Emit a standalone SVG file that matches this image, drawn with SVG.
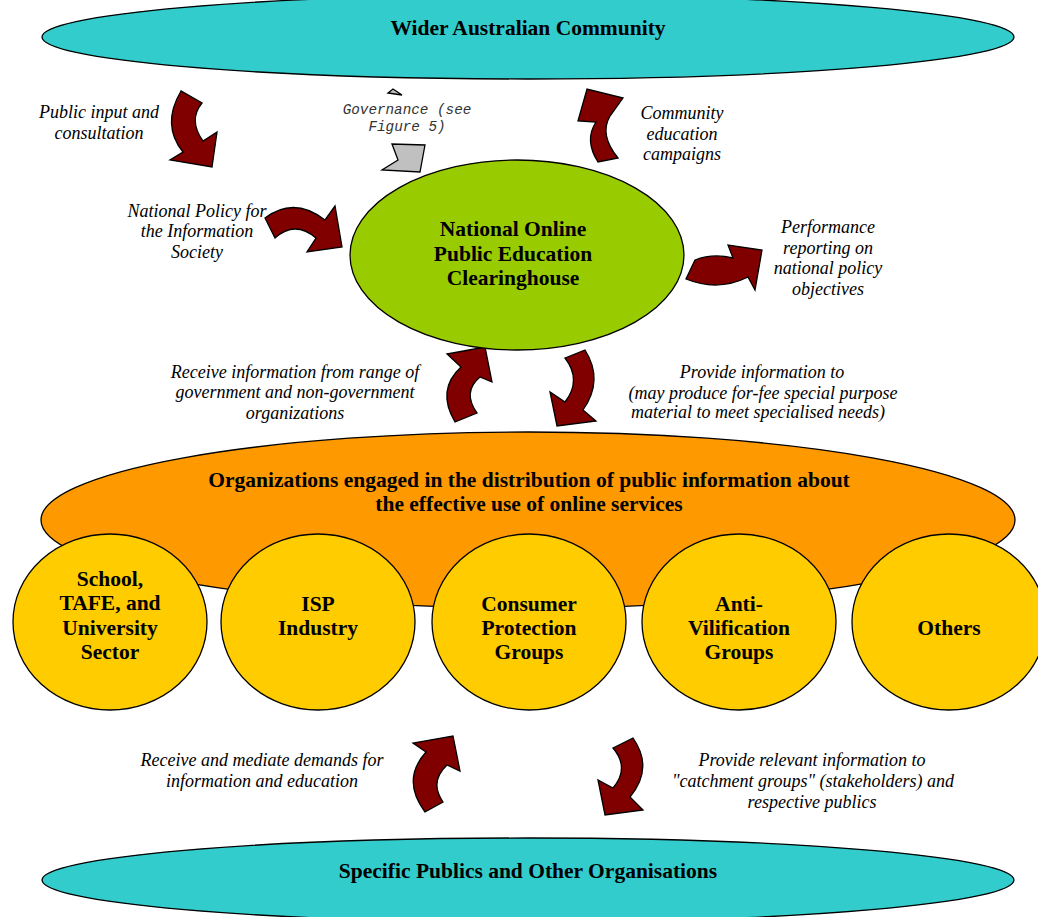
<svg xmlns="http://www.w3.org/2000/svg" width="1038" height="917" viewBox="0 0 1038 917">
<style>
.bg{fill:#ffffff}
.ell{stroke:#000;stroke-width:1.3}
.cyan{fill:#33cccc}
.green{fill:#99cc00}
.orange{fill:#ff9900}
.yellow{fill:#ffcc00}
.arr{fill:#800000;stroke:#000;stroke-width:1.3;stroke-linejoin:miter}
.garr{fill:#c0c0c0;stroke:#000;stroke-width:1.3}
.b{font-family:"Liberation Serif",serif;font-weight:bold;font-size:21.5px;text-anchor:middle;fill:#000}
.i{font-family:"Liberation Serif",serif;font-style:italic;font-size:18px;text-anchor:middle;fill:#000}
.m{font-family:"Liberation Mono",monospace;font-style:italic;font-size:14.3px;text-anchor:middle;fill:#333}
</style>
<rect class="bg" x="0" y="0" width="1038" height="917"/>
<g id="wider-community">
<ellipse class="ell cyan" cx="528" cy="37" rx="486" ry="42"/>
<text class="b" x="528" y="35">Wider Australian Community</text>
</g>
<g id="connectors">
<path class="arr" d="M181,91 Q161,125 183,152 L170,160 L212,167 L217,132 L203,141 Q188,120 202,103 Z"/>
<path class="garr" d="M388,93 L393,89 L402,95 Z"/>
<path class="garr" d="M392,144 L398,160 L382,170 L420,172 L425,145 Z"/>
<path class="arr" d="M598,162 Q584,140 596,122 L578,121 L587,89 L623,98 L610,116 Q599,135 618,158 Z"/>
<path class="arr" d="M265,218 Q294,196 325,220 L335,206 L342,247 L307,252 L316,238 Q295,220 275,238 Z"/>
<path class="arr" d="M695,260 Q713,253 733,258 L728,245 L762,250 L755,290 L748,277 Q718,292 686,279 Z"/>
<path class="arr" d="M455,422 Q436,390 461,367 L447,354 L485,347 L492,382 L480,377 Q462,392 477,413 Z"/>
<path class="arr" d="M565,358 L585,350 Q604,380 583,410 L596,421 L557,426 L550,392 L565,402 Q582,380 565,358 Z"/>
<path class="arr" d="M425,812 Q401,780 426,752 L413,743 L453,736 L460,771 L447,765 Q429,782 443,802 Z"/>
<path class="arr" d="M613,748 L633,738 Q654,768 630,797 L643,810 L605,815 L598,780 L613,788 Q630,768 613,748 Z"/>
</g>
<g id="labels">
<text class="i" x="99" y="118">Public input and</text>
<text class="i" x="99" y="139">consultation</text>
<text class="m" x="407" y="114">Governance (see</text>
<text class="m" x="407" y="131">Figure 5)</text>
<text class="i" x="682" y="119">Community</text>
<text class="i" x="682" y="140">education</text>
<text class="i" x="682" y="160">campaigns</text>
<text class="i" x="197" y="217">National Policy for</text>
<text class="i" x="197" y="237">the Information</text>
<text class="i" x="197" y="258">Society</text>
<text class="i" x="828" y="233">Performance</text>
<text class="i" x="828" y="254">reporting on</text>
<text class="i" x="828" y="274">national policy</text>
<text class="i" x="828" y="295">objectives</text>
<text class="i" x="295" y="378">Receive information from range of</text>
<text class="i" x="295" y="398">government and non-government</text>
<text class="i" x="295" y="419">organizations</text>
<text class="i" x="762" y="378">Provide information to</text>
<text class="i" x="763" y="399">(may produce for-fee special purpose</text>
<text class="i" x="758" y="418">material to meet specialised needs)</text>
<text class="i" x="262" y="766">Receive and mediate demands for</text>
<text class="i" x="262" y="787">information and education</text>
<text class="i" x="812" y="766">Provide relevant information to</text>
<text class="i" x="813" y="787">"catchment groups" (stakeholders) and</text>
<text class="i" x="812" y="808">respective publics</text>
</g>
<g id="clearinghouse">
<ellipse class="ell green" cx="517" cy="255" rx="167" ry="95"/>
<text class="b" x="513" y="236">National Online</text>
<text class="b" x="513" y="261">Public Education</text>
<text class="b" x="513" y="285">Clearinghouse</text>
</g>
<g id="organizations">
<ellipse class="ell orange" cx="528" cy="520" rx="487" ry="88"/>
<text class="b" x="529" y="487">Organizations engaged in the distribution of public information about</text>
<text class="b" x="529" y="511">the effective use of online services</text>
</g>
<g id="school">
<ellipse class="ell yellow" cx="110" cy="622" rx="97" ry="88"/>
<text class="b" x="110" y="586">School,</text>
<text class="b" x="110" y="610">TAFE, and</text>
<text class="b" x="110" y="635">University</text>
<text class="b" x="110" y="659">Sector</text>
</g>
<g id="isp">
<ellipse class="ell yellow" cx="318" cy="622" rx="97" ry="88"/>
<text class="b" x="318" y="611">ISP</text>
<text class="b" x="318" y="635">Industry</text>
</g>
<g id="consumer">
<ellipse class="ell yellow" cx="529" cy="622" rx="97" ry="88"/>
<text class="b" x="529" y="611">Consumer</text>
<text class="b" x="529" y="635">Protection</text>
<text class="b" x="529" y="659">Groups</text>
</g>
<g id="anti-vilification">
<ellipse class="ell yellow" cx="739" cy="622" rx="97" ry="88"/>
<text class="b" x="739" y="611">Anti-</text>
<text class="b" x="739" y="635">Vilification</text>
<text class="b" x="739" y="659">Groups</text>
</g>
<g id="others">
<ellipse class="ell yellow" cx="949" cy="622" rx="97" ry="88"/>
<text class="b" x="949" y="635">Others</text>
</g>
<g id="specific-publics">
<ellipse class="ell cyan" cx="528" cy="880" rx="486" ry="42"/>
<text class="b" x="528" y="878">Specific Publics and Other Organisations</text>
</g>
</svg>
